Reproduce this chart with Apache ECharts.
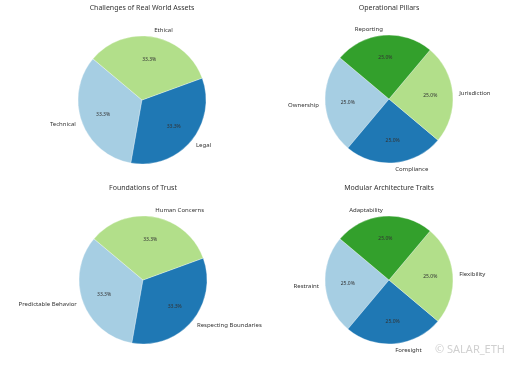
<!DOCTYPE html>
<html><head><meta charset="utf-8">
<script src="https://cdn.jsdelivr.net/npm/echarts@6/dist/echarts.min.js"></script>
<style>html,body{margin:0;padding:0;background:#fff}#c{width:512px;height:366px}</style>
</head><body><div id="c"></div>
<script>
const titles = ['Challenges of Real World Assets', 'Operational Pillars', 'Foundations of Trust', 'Modular Architecture Traits'];
const cats1 = ['Technical', 'Legal', 'Ethical'];
const vals1 = [1, 1, 1];
const cats2 = ['Ownership', 'Compliance', 'Jurisdiction', 'Reporting'];
const vals2 = [1, 1, 1, 1];
const cats3 = ['Predictable Behavior', 'Respecting Boundaries', 'Human Concerns'];
const vals3 = [1, 1, 1];
const cats4 = ['Restraint', 'Foresight', 'Flexibility', 'Adaptability'];
const vals4 = [1, 1, 1, 1];
const palette = ['#a6cee3', '#1f78b4', '#b2df8a', '#33a02c'];

const charts = [
  {cats: cats1, vals: vals1, cx: 142, cy: 100, ty: 8},
  {cats: cats2, vals: vals2, cx: 389, cy: 99, ty: 8},
  {cats: cats3, vals: vals3, cx: 143, cy: 280, ty: 188},
  {cats: cats4, vals: vals4, cx: 389, cy: 280, ty: 188}
];
const R = 64;
const FONT = 'Noto Sans';
const series = [];
const graphic = [];
charts.forEach((c, i) => {
  const data = c.cats.map((n, k) => ({name: n, value: c.vals[k], itemStyle: {color: palette[k]}}));
  series.push({
    type: 'pie', center: [c.cx, c.cy], radius: [0, R], startAngle: 140, clockwise: false,
    silent: true, animation: false,
    itemStyle: {borderColor: '#fff', borderWidth: 0.3},
    label: {show: true, position: 'outside', formatter: '{b}', fontFamily: FONT, fontSize: 6, color: '#333',
      distanceToLabelLine: 0, alignTo: 'none'},
    labelLine: {show: false, length: R * 0.1, length2: 0},
    avoidLabelOverlap: false,
    data: data
  });
  series.push({
    type: 'pie', center: [c.cx, c.cy], radius: [0, R * 1.2], startAngle: 140, clockwise: false,
    silent: true, animation: false, z: 5,
    itemStyle: {color: 'rgba(0,0,0,0)'},
    label: {show: true, position: 'inside', fontFamily: FONT, fontSize: 5, color: '#333',
      formatter: p => p.percent.toFixed(1) + '%'},
    labelLine: {show: false},
    data: c.cats.map((n, k) => ({name: n, value: c.vals[k]}))
  });
  graphic.push({type: 'text', x: c.cx, y: c.ty, style: {text: titles[i], font: '7px "' + FONT + '"', fill: '#333', textAlign: 'center', textVerticalAlign: 'middle'}});
});
graphic.push({type: 'text', x: 505, y: 350, style: {text: '© SALAR_ETH', font: '11px "' + FONT + '"', fill: '#d0d0d0', textAlign: 'right', textVerticalAlign: 'middle'}, z: 100});
const chart = echarts.init(document.getElementById('c'), null, {renderer: 'canvas'});
chart.setOption({animation: false, backgroundColor: '#fff', series: series, graphic: graphic});
</script></body></html>
